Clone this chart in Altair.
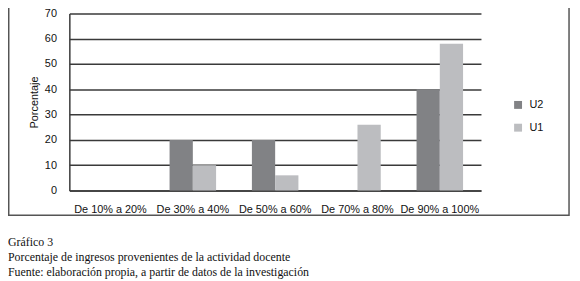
import altair as alt
import pandas as pd

categories = ["De 10% a 20%", "De 30% a 40%", "De 50% a 60%", "De 70% a 80%", "De 90% a 100%"]
series = ["U2", "U1"]
u2_values = [0, 20, 20, 0, 40]
u1_values = [0, 10, 6, 26, 58]
colors = ["#818285", "#bcbdc0"]
y_ticks = [0, 10, 20, 30, 40, 50, 60, 70]
caption_title = "Gráfico 3"
caption_lines = [
    "Porcentaje de ingresos provenientes de la actividad docente",
    "Fuente: elaboración propia, a partir de datos de la investigación",
]

rows = []
for c, a, b in zip(categories, u2_values, u1_values):
    rows.append({"cat": c, "serie": "U2", "val": a})
    rows.append({"cat": c, "serie": "U1", "val": b})
df = pd.DataFrame(rows)

AX_FONT = "Liberation Sans"
SERIF = "Liberation Serif"
TXT = "#111111"

bars = alt.Chart(df).mark_bar().encode(
    x=alt.X("cat:N", sort=categories, title=None,
            scale=alt.Scale(paddingInner=0.435, paddingOuter=0.2175),
            axis=alt.Axis(labelAngle=0, ticks=False, labelPadding=13, domainColor="#3a3a3a",
                          domainWidth=1.5, labelFont=AX_FONT, labelFontSize=11, labelColor=TXT)),
    xOffset=alt.XOffset("serie:N", sort=series, scale=alt.Scale(paddingInner=0, paddingOuter=0)),
    y=alt.Y("val:Q", title="Porcentaje",
            scale=alt.Scale(domain=[0, 70], nice=False),
            axis=alt.Axis(values=y_ticks, ticks=False, labelPadding=13, grid=True,
                          gridColor="#3a3a3a", gridWidth=1.5, domainColor="#3a3a3a", domainWidth=1.5,
                          labelFont=AX_FONT, labelFontSize=11, labelColor=TXT,
                          titleFont=AX_FONT, titleFontSize=11, titleFontWeight="normal",
                          titleColor=TXT, titlePadding=5)),
    color=alt.Color("serie:N", sort=series,
                    scale=alt.Scale(domain=series, range=colors),
                    legend=alt.Legend(title=None, orient="none", legendX=448, legendY=87,
                                      symbolType="square", symbolSize=64, symbolStrokeWidth=0,
                                      labelFont=AX_FONT, labelFontSize=11, labelColor=TXT,
                                      rowPadding=11, labelOffset=6)),
)

box = alt.Chart(alt.Data(values=[{}])).mark_rect(
    fill=None, stroke="#555555", strokeWidth=1.5
).encode(
    x=alt.value(-61.25), x2=alt.value(505), y=alt.value(-20), y2=alt.value(204)
)

chart = alt.layer(box, bars).properties(
    width=416,
    height=179,
    autosize=alt.AutoSizeParams(type="none"),
    padding={"left": 62, "top": 4, "right": 92, "bottom": 90},
    title=alt.TitleParams(
        text=caption_title,
        subtitle=caption_lines,
        orient="bottom",
        anchor="start",
        frame="group",
        dx=-62,
        offset=21,
        font=SERIF,
        fontSize=12,
        fontWeight="normal",
        color=TXT,
        subtitleFont=SERIF,
        subtitleFontSize=12,
        subtitleColor=TXT,
        subtitleLineHeight=15.5,
        subtitlePadding=3,
    ),
).configure_view(stroke=None)

chart.save("out.html", embed_options={"renderer": "svg", "actions": False})
